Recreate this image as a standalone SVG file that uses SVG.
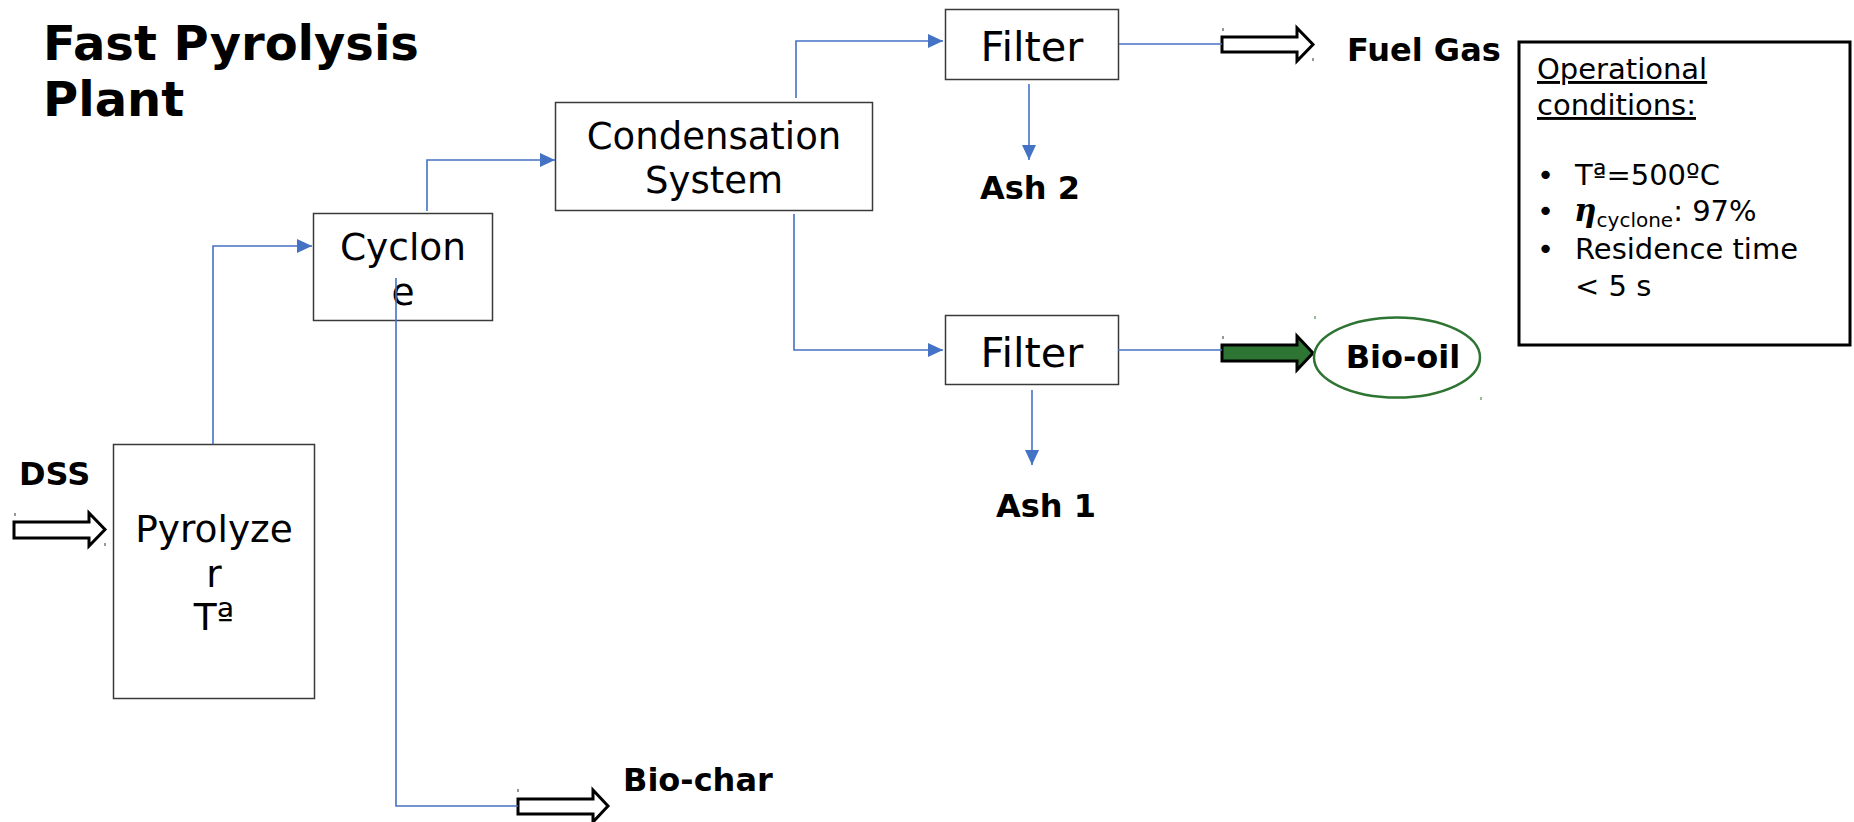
<svg xmlns="http://www.w3.org/2000/svg" width="1854" height="822" viewBox="0 0 1854 822">
  <style>
    .box { fill: #ffffff; stroke: #3a3a3a; stroke-width: 1.5; }
    .flow { fill: none; stroke: #4472C4; stroke-width: 1.6; }
    .lbl { font-family: "DejaVu Sans", Verdana, sans-serif; fill: #000000; text-anchor: middle; }
    .bold { font-family: "DejaVu Sans", Verdana, sans-serif; font-weight: bold; fill: #000000; }
    .block { stroke: #000000; stroke-width: 3; stroke-linejoin: miter; }
    .tick { stroke: #333333; stroke-width: 1; }
  </style>
  <defs>
    <marker id="head" markerUnits="userSpaceOnUse" markerWidth="16" markerHeight="16" viewBox="0 0 16 16" refX="15" refY="8" orient="auto">
      <path d="M0,1 L15,8 L0,15 Z" fill="#4472C4"/>
    </marker>
  </defs>

  <!-- Title -->
  <g id="title" class="bold" font-size="48">
    <text x="43" y="60">Fast Pyrolysis</text>
    <text x="43" y="116">Plant</text>
  </g>

  <!-- Pyrolyzer -->
  <g id="pyrolyzer">
    <rect class="box" x="113.5" y="444.5" width="201" height="254"/>
    <text class="lbl" font-size="37.5" x="214" y="542">Pyrolyze</text>
    <text class="lbl" font-size="37.5" x="214" y="587">r</text>
    <text class="lbl" font-size="37.5" x="214" y="630">Tª</text>
  </g>

  <!-- Cyclone -->
  <g id="cyclone">
    <rect class="box" x="313.5" y="213.5" width="179" height="107"/>
    <text class="lbl" font-size="37.5" x="403" y="260">Cyclon</text>
    <text class="lbl" font-size="37.5" x="403" y="305">e</text>
  </g>

  <!-- Condensation system -->
  <g id="condensation">
    <rect class="box" x="555.5" y="102.5" width="317" height="108"/>
    <text class="lbl" font-size="37" x="714" y="149">Condensation</text>
    <text class="lbl" font-size="37" x="714" y="193">System</text>
  </g>

  <!-- Gas filter -->
  <g id="filter-gas">
    <rect class="box" x="945.5" y="9.5" width="173" height="70"/>
    <text class="lbl" font-size="41.5" x="1032" y="61">Filter</text>
  </g>

  <!-- Oil filter -->
  <g id="filter-oil">
    <rect class="box" x="945.5" y="315.5" width="173" height="69"/>
    <text class="lbl" font-size="41.5" x="1032" y="367">Filter</text>
  </g>

  <!-- Feed -->
  <g id="dss">
    <text class="bold" font-size="32" x="19" y="485">DSS</text>
    <polygon class="block" fill="#ffffff" points="14,522 89,522 89,513 105,529.5 89,546 89,538 14,538"/>
    <line class="tick" x1="15" y1="513" x2="15" y2="516"/>
    <line class="tick" x1="105" y1="543" x2="105" y2="546"/>
  </g>

  <!-- Fuel gas outlet -->
  <g id="fuel-gas">
    <polygon class="block" fill="#ffffff" points="1222,37 1297,37 1297,28 1313,44.5 1297,61 1297,52 1222,52"/>
    <line class="tick" x1="1223" y1="28" x2="1223" y2="31"/>
    <line class="tick" x1="1313" y1="58" x2="1313" y2="61"/>
    <text class="bold" font-size="32" x="1347" y="61">Fuel Gas</text>
  </g>

  <!-- Ash outlets -->
  <g id="ash-2">
    <text class="bold" font-size="32" x="1030" y="199" text-anchor="middle">Ash 2</text>
  </g>
  <g id="ash-1">
    <text class="bold" font-size="32" x="1046" y="517" text-anchor="middle">Ash 1</text>
  </g>

  <!-- Bio-oil product -->
  <g id="bio-oil">
    <polygon class="block" fill="#2E7432" points="1222,345 1297,345 1297,336 1313,353 1297,370 1297,361 1222,361"/>
    <line class="tick" x1="1223" y1="336" x2="1223" y2="339"/>
    <line x1="1315" y1="316" x2="1315" y2="319" stroke="#2E7432" stroke-width="1"/>
    <line x1="1481" y1="397" x2="1481" y2="400" stroke="#2E7432" stroke-width="1"/>
    <ellipse cx="1397" cy="357.5" rx="83" ry="40" fill="none" stroke="#2E7432" stroke-width="2.5"/>
    <text class="bold" font-size="32" x="1403" y="368" text-anchor="middle">Bio-oil</text>
  </g>

  <!-- Bio-char outlet -->
  <g id="bio-char">
    <polygon class="block" fill="#ffffff" points="518,799 593,799 593,790 608,806 593,822 593,814 518,814"/>
    <line class="tick" x1="518" y1="789" x2="518" y2="792"/>
    <text class="bold" font-size="32" x="623" y="791">Bio-char</text>
  </g>

  <!-- Operating conditions -->
  <g id="conditions">
    <rect x="1519" y="42" width="331" height="303" fill="#ffffff" stroke="#000000" stroke-width="3"/>
    <g font-family="DejaVu Sans, Verdana, sans-serif" font-size="29" fill="#000000">
      <text x="1537" y="79" text-decoration="underline">Operational</text>
      <text x="1537" y="115" text-decoration="underline">conditions:</text>
      <text x="1537" y="185">•</text>
      <text x="1575" y="185">Tª=500ºC</text>
      <text x="1537" y="221">•</text>
      <text x="1574" y="221"><tspan font-family="DejaVu Serif, serif" font-weight="bold" font-style="italic" font-size="31">η</tspan><tspan font-size="20" dy="6">cyclone</tspan><tspan dy="-6">: 97%</tspan></text>
      <text x="1537" y="259">•</text>
      <text x="1575" y="259">Residence time</text>
      <text x="1575" y="296">&lt; 5 s</text>
    </g>
  </g>

  <!-- Flow lines (drawn over the unit boxes) -->
  <g id="connectors">
    <path class="flow" d="M213,444 V246 H312" marker-end="url(#head)"/>
    <path class="flow" d="M427,211 V160 H555" marker-end="url(#head)"/>
    <path class="flow" d="M796,98 V41 H943" marker-end="url(#head)"/>
    <path class="flow" d="M794,214 V350 H943" marker-end="url(#head)"/>
    <path class="flow" d="M1029,84 V160" marker-end="url(#head)"/>
    <path class="flow" d="M1032,390 V465" marker-end="url(#head)"/>
    <path class="flow" d="M1119,44 H1222"/>
    <path class="flow" d="M1118,350 H1222"/>
    <path class="flow" d="M396,278 V806 H518"/>
  </g>
</svg>
